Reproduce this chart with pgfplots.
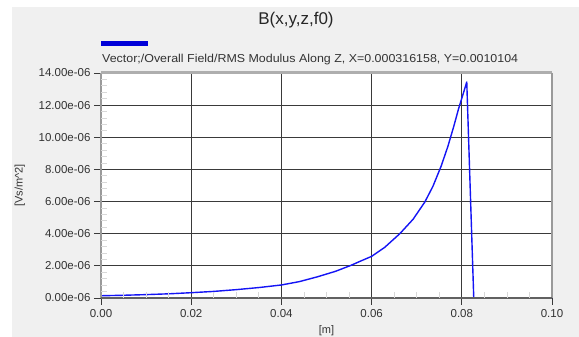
\documentclass[border=0pt]{standalone}
\usepackage{fontspec}
\setmainfont{Liberation Sans}
\usepackage{graphicx}
\usepackage{pgfplots}
\pgfplotsset{compat=1.18}
\definecolor{panel}{HTML}{F0F0F0}
\definecolor{gridc}{HTML}{3A3A3A}
\definecolor{framec}{HTML}{9A9A9A}
\definecolor{minorc}{HTML}{D8D8D8}
\definecolor{curve}{HTML}{1414F5}
\definecolor{legc}{HTML}{0000D8}
\begin{document}
\begin{tikzpicture}[x=1pt,y=1pt]
\useasboundingbox (0,0) rectangle (579,337);
\fill[panel] (12,0) rectangle (579,330);
\node[font=\fontsize{17}{20}\selectfont, text=black!85] at (296,317) {B(x,y,z,f0)};
\fill[legc] (101,290.5) rectangle (148,296);
\node[anchor=base west,font=\fontsize{11.5}{13}\selectfont,inner sep=0, text=black!80] at (102,274.5) {\resizebox{416pt}{\height}{Vector;/Overall Field/RMS Modulus Along Z, X=0.000316158, Y=0.0010104}};
\begin{axis}[at={(101pt,39pt)}, anchor=south west,
  scale only axis, width=451pt, height=225pt,
  xmin=0, xmax=0.1, ymin=0, ymax=14,
  axis background/.style={fill=white},
  axis line style={draw=none},
  xtick={0,0.02,0.04,0.06,0.08,0.1},
  xticklabels={0.00,0.02,0.04,0.06,0.08,0.10},
  ytick={0,2,4,6,8,10,12,14},
  yticklabels={0.00e-06,2.00e-06,4.00e-06,6.00e-06,8.00e-06,10.00e-06,12.00e-06,14.00e-06},
  xtick pos=left, ytick pos=left,
  tick align=outside, major tick length=7pt,
  tick style={gridc, line width=0.8pt},
  grid=major, major grid style={gridc, line width=0.8pt},
  ticklabel style={font=\fontsize{11.5}{13}\selectfont, text=black!80},
  xticklabel style={yshift=-1pt},
  xlabel={[m]}, ylabel={[Vs/m\^{}2]},
  label style={font=\fontsize{11}{13}\selectfont, text=black!80},
  xlabel style={yshift=-1pt},
  ylabel style={yshift=7pt},
  clip=false,
]
\addplot[curve, line width=1.4pt, line join=round] coordinates {
(0,0.14) (0.005,0.17) (0.01,0.21) (0.015,0.26) (0.02,0.33) (0.025,0.41)
(0.03,0.52) (0.035,0.65) (0.04,0.81) (0.044,1.02) (0.048,1.32) (0.052,1.66)
(0.0555,2.04) (0.0575,2.29) (0.06,2.59) (0.0629,3.15) (0.06625,4.00) (0.0692,4.90)
(0.0718,5.97) (0.0736,6.95) (0.0754,8.19) (0.0769,9.42) (0.0782,10.66) (0.0793,11.79)
(0.0802,12.61) (0.0811,13.44) (0.08265,0) (0.1,0)
};
\draw[framec, line width=1.6pt] (rel axis cs:0,0) -- (rel axis cs:0,1);
\draw[framec!80!white, line width=3pt] (rel axis cs:0,1) -- (rel axis cs:1,1);
\draw[framec, line width=1.6pt] (rel axis cs:1,1) -- (rel axis cs:1,0);
\draw[gridc!80!white, line width=1.4pt] (rel axis cs:0,0) -- (rel axis cs:1,0);
\end{axis}
\begin{axis}[at={(101pt,39pt)}, anchor=south west,
  scale only axis, width=451pt, height=225pt,
  xmin=0, xmax=0.1, ymin=0, ymax=14,
  axis line style={draw=none},
  xtick={0,0.02,0.04,0.06,0.08,0.1}, ytick={0,2,4,6,8,10,12,14},
  xticklabels={}, yticklabels={},
  minor x tick num=3, minor y tick num=4,
  xtick pos=left, ytick pos=left,
  tick align=inside, major tick length=0pt, minor tick length=6pt,
  minor tick style={minorc, line width=0.8pt},
]
\end{axis}
\end{tikzpicture}
\end{document}
